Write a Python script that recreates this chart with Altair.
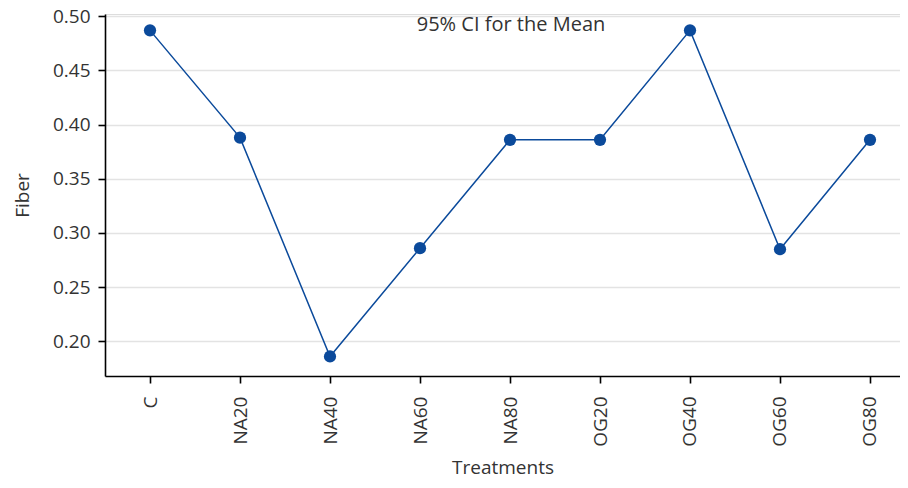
import altair as alt
import pandas as pd

treatments = ["C", "NA20", "NA40", "NA60", "NA80", "OG20", "OG40", "OG60", "OG80"]
fiber = [0.487, 0.388, 0.186, 0.286, 0.386, 0.386, 0.487, 0.285, 0.386]
title_text = "95% CI for the Mean"

df = pd.DataFrame({"Treatments": treatments, "Fiber": fiber})

FONT = "Open Sans"
COLOR = "#0b4a9b"
LS = 19

x_enc = alt.X("Treatments:N", sort=treatments, title="Treatments",
              scale=alt.Scale(type="point", padding=0.41667, align=0.6),
              axis=alt.Axis(labelAngle=-90, labelFontSize=LS, titleFontSize=LS,
                            labelFont=FONT, titleFont=FONT, labelColor="#333",
                            titleColor="#333", titleFontWeight="normal",
                            domainColor="#000", tickColor="#000", tickSize=7,
                            domainWidth=1.6, tickWidth=1.6,
                            labelPadding=13, titlePadding=12, grid=False,
                            labelAlign="right", labelBaseline="middle"))
y_enc = alt.Y("Fiber:Q", title="Fiber",
              scale=alt.Scale(domain=[0.168, 0.5021], nice=False, zero=False),
              axis=alt.Axis(values=[0.2, 0.25, 0.3, 0.35, 0.4, 0.45, 0.5], format=".2f",
                            labelFontSize=LS, titleFontSize=LS, labelFont=FONT,
                            titleFont=FONT, labelColor="#333", titleColor="#333",
                            titleFontWeight="normal", domainColor="#000",
                            tickColor="#000", tickSize=7, domainWidth=1.6,
                            tickWidth=1.6, labelPadding=8, titlePadding=20,
                            grid=True, gridColor="#e3e3e3", gridWidth=1.5))

base = alt.Chart(df)
line = base.mark_line(color=COLOR, strokeWidth=1.5).encode(x=x_enc, y=y_enc)
pts = base.mark_circle(color=COLOR, size=150, opacity=1).encode(x=x_enc, y=y_enc)
txt = alt.Chart(pd.DataFrame({"t": [title_text]})).mark_text(
    font=FONT, fontSize=20, color="#333", baseline="middle", align="center"
).encode(text="t:N", x=alt.value(406), y=alt.value(11))

chart = (line + pts + txt).properties(
    width=795, height=362,
    autosize=alt.AutoSizeParams(type="none"),
    padding={"left": 97, "top": 6, "right": 0, "bottom": 104},
).configure_view(stroke=None).configure(background="white")

chart.save("out.html", embed_options={"renderer": "svg", "actions": False})
